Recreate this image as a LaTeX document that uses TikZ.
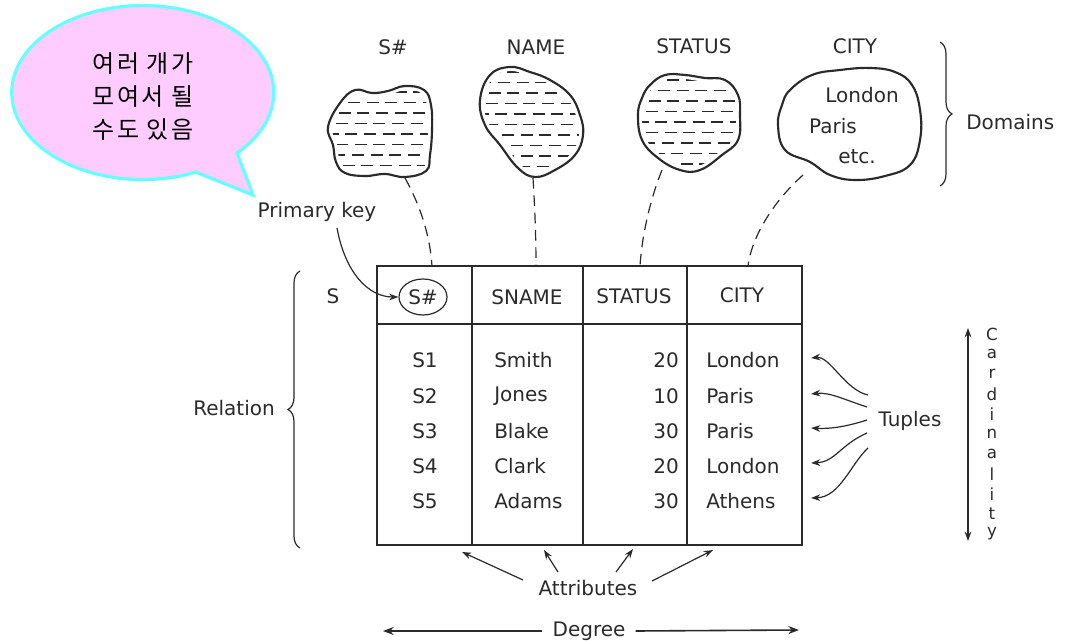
\documentclass[tikz,border=0pt]{standalone}
\usepackage{fontspec}
\setmainfont{DejaVu Sans}
\newfontfamily\kr[LetterSpace=10]{Noto Sans CJK KR}
\usetikzlibrary{shapes.geometric,arrows.meta,decorations.pathreplacing}
\definecolor{bubblefill}{HTML}{FFCCFF}
\definecolor{bubbleedge}{HTML}{66FFFF}
\definecolor{ink}{HTML}{2A2A2A}
\begin{document}
\begin{tikzpicture}[x=0.75pt,y=-0.75pt,
  txt/.style={font=\fontsize{15}{18}\selectfont, text=ink, inner sep=0pt},
  blobline/.style={draw=ink, line width=1.6pt},
  hatch/.style={draw=ink, line width=1.3pt},
  link/.style={draw=ink, line width=0.9pt, dash pattern=on 8pt off 5pt},
  arr/.style={draw=ink, line width=0.9pt, -{Stealth[length=7pt,width=5pt]}},
  brace/.style={draw=ink, line width=0.9pt, decorate, decoration={brace, amplitude=9pt}},
  tline/.style={draw=ink, line width=1.3pt},
  cline/.style={draw=ink, line width=0.8pt}]
\useasboundingbox (0,0) rectangle (1070,641);

% ---------- speech bubble ----------
\draw[fill=bubblefill, draw=bubbleedge, line width=2.4pt, line join=miter]
  (198,173) -- (253,195) -- (237,153)
  arc[start angle=44, end angle=-294, x radius=131, y radius=87] -- cycle;
\node[txt, font=\kr\fontsize{18}{24.75}\selectfont, text=black, align=center] (bub) at (143,97)
  {여러 개가\\모여서 될\\수도 있음};

% ---------- domain labels ----------
\node[txt] (dS) at (393,47) {S\#};
\node[txt] (dN) at (536,47) {NAME};
\node[txt] (dT) at (694,46) {STATUS};
\node[txt] (dC) at (855,46) {CITY};

% ---------- blobs ----------
\def\blobA{plot[smooth cycle, tension=0.7] coordinates {(340,103) (355,90) (372,93) (388,91) (405,86) (424,90) (431,105) (432,130) (430,155) (426,171) (405,177) (385,174) (365,176) (345,173) (336,162) (333,145) (328,127)}}
\def\blobB{plot[smooth cycle, tension=0.7] coordinates {(490,75) (510,67) (530,72) (550,80) (570,95) (580,115) (583,135) (575,155) (555,170) (535,177) (518,168) (500,145) (485,125) (480,100)}}
\def\blobC{plot[smooth cycle, tension=0.7] coordinates {(650,85) (665,75) (685,75) (705,78) (725,80) (738,95) (740,115) (738,140) (722,155) (700,170) (680,170) (658,158) (642,140) (638,115) (642,98)}}
\def\blobD{plot[smooth cycle, tension=0.7] coordinates {(790,90) (812,75) (840,70) (870,68) (895,72) (912,85) (920,110) (920,140) (910,165) (885,176) (855,180) (830,175) (810,162) (785,150) (778,125) (782,105)}}

\foreach \bl/\xa/\xb/\ya/\yb in {A/320/440/92/176, B/470/590/72/176, C/630/750/80/170}{
  \begin{scope}
    \clip \csname blob\bl\endcsname;
    \foreach \i in {0,...,10}{
      \pgfmathsetmacro\yy{\ya+\i*10.5}
      \pgfmathsetmacro\ph{mod(\i*7,19)}
      \draw[hatch, dash pattern=on 9pt off 5pt, dash phase=\ph pt] (\xa,\yy) -- (\xb,\yy);
    }
  \end{scope}
  \draw[white, line width=6pt] \csname blob\bl\endcsname;
}
\draw[blobline] \blobA;
\draw[blobline] \blobB;
\draw[blobline] \blobC;
\draw[blobline] \blobD;
\node[txt] (cL) at (862,95) {London};
\node[txt] (cP) at (833,126) {Paris};
\node[txt] (cE) at (857,157) {etc.};

\coordinate (bA) at (405,178);
\coordinate (bB) at (533,178);
\coordinate (bC) at (662,170);
\coordinate (bD) at (803,175);

% ---------- Domains brace ----------
\draw[brace] (940,42) -- (940,186);
\node[txt, anchor=west] (dom) at (966,122) {Domains};

% ---------- table ----------
\draw[tline] (377,266) rectangle (802,545);
\draw[draw=ink, line width=1.8pt] (377,324) -- (802,324);
\draw[cline] (472,266) -- (472,545);
\draw[cline] (583,266) -- (583,545);
\draw[cline] (687,266) -- (687,545);
\coordinate (tA) at (432,266);
\coordinate (tB) at (536,266);
\coordinate (tC) at (640,266);
\coordinate (tD) at (748,266);

\draw[link] (bA) .. controls (420,205) and (430,235) .. (tA);
\draw[link] (bB) .. controls (535,210) and (536,240) .. (tB);
\draw[link] (bC) .. controls (650,200) and (642,235) .. (tC);
\draw[link] (bD) .. controls (775,200) and (752,235) .. (tD);

\node[txt, draw=ink, line width=0.9pt, ellipse, minimum width=36pt, minimum height=27pt, inner sep=0pt] (hS) at (423,297) {S\#};
\node[txt] (hN) at (527,297) {SNAME};
\node[txt] (hT) at (634,296) {STATUS};
\node[txt] (hC) at (742,295) {CITY};
\node[txt] (rS) at (333,296) {S};

\foreach \y/\s/\n/\t/\c in {360/S1/Smith/20/London, 396/S2/Jones/10/Paris, 431/S3/Blake/30/Paris, 466/S4/Clark/20/London, 501/S5/Adams/30/Athens}{
  \node[txt] at (425,\y) {\s};
  \node[txt, anchor=west] at (494,\y) {\n};
  \node[txt, anchor=east] at (679,\y) {\t};
  \node[txt, anchor=west] at (706,\y) {\c};
}

% ---------- Primary key ----------
\node[txt] (pk) at (317,212) {Primary key};
\draw[arr] (337,228) .. controls (345,272) and (368,297) .. (hS.west);

% ---------- Relation brace ----------
\draw[brace] (300,548) -- (300,271);
\node[txt, anchor=east] (rel) at (275,408) {Relation};

% ---------- Tuples ----------
\node[txt] (tup) at (910,421) {Tuples};
\coordinate (u1) at (811,358);
\coordinate (u2) at (811,394);
\coordinate (u3) at (811,428);
\coordinate (u4) at (811,463);
\coordinate (u5) at (811,498);
\draw[arr] (868,395) .. controls (845,390) and (830,356) .. (u1);
\draw[arr] (867,407) .. controls (845,400) and (830,392) .. (u2);
\draw[arr] (867,420) .. controls (845,427) and (830,429) .. (u3);
\draw[arr] (867,433) .. controls (840,445) and (835,462) .. (u4);
\draw[arr] (868,448) .. controls (850,465) and (840,497) .. (u5);

% ---------- Cardinality ----------
\coordinate (ct) at (968,328);
\coordinate (cb) at (968,541);
\draw[draw=ink, line width=0.8pt, {Stealth[length=7pt,width=5pt]}-{Stealth[length=7pt,width=5pt]}] (ct) -- (cb);
\foreach \l [count=\k from 0] in {C,a,r,d,i,n,a,l,i,t,y}{
  \node[txt, font=\fontsize{12.5}{14}\selectfont] at (992,334+\k*20) {\l};
}

% ---------- Attributes ----------
\node[txt] (att) at (588,588) {Attributes};
\coordinate (a1) at (462,552);
\coordinate (a2) at (544,550);
\coordinate (a3) at (633,549);
\coordinate (a4) at (713,550);
\draw[arr] (523,580) -- (a1);
\draw[arr] (558,572) -- (a2);
\draw[arr] (616,572) -- (a3);
\draw[arr] (652,581) -- (a4);

% ---------- Degree ----------
\node[txt] (deg) at (589,631) {Degree};
\coordinate (gl) at (383,631);
\coordinate (gr) at (799,630);
\draw[draw=ink, line width=1.2pt, -{Stealth[length=8pt,width=6pt]}] (deg.west) ++(-10,0) -- (gl);
\draw[draw=ink, line width=1.2pt, -{Stealth[length=8pt,width=6pt]}] (deg.east) ++(10,0) -- (gr);
\end{tikzpicture}
\end{document}
